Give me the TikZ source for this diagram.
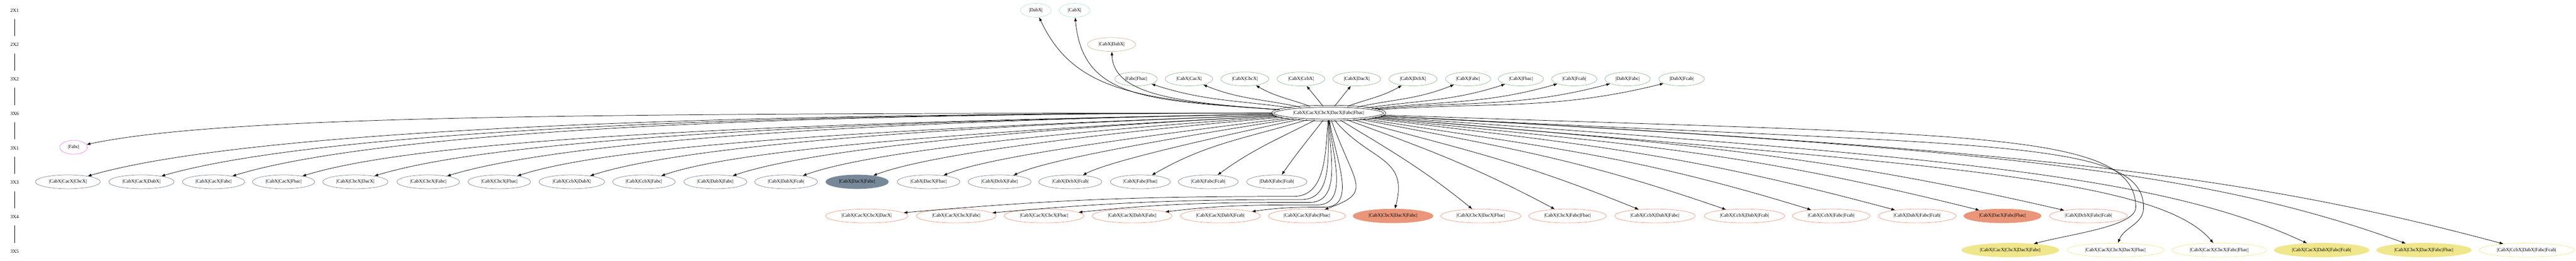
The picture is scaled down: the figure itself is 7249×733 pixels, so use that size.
\documentclass[tikz,border=0pt]{standalone}
\usepackage{fontspec}
\setmainfont{Liberation Serif}
\usetikzlibrary{shapes.geometric, positioning, arrows.meta}

\definecolor{paleblue}{HTML}{B0E0E6}
\definecolor{greytan}{HTML}{CDB79E}
\definecolor{sage}{HTML}{8FBC8F}
\definecolor{orchidline}{HTML}{EE82EE}
\definecolor{slate}{HTML}{778899}
\definecolor{salmonline}{HTML}{E9967A}
\definecolor{khakiline}{HTML}{F0E68C}

\tikzset{
  lbl/.style={font=\fontsize{10.3pt}{12pt}\selectfont},
  rank/.style={lbl, inner sep=0pt, minimum height=36pt, node distance=36.2pt},
  cell/.style={lbl, ellipse, draw, line width=0.8pt, inner xsep=8.6pt, inner ysep=2pt,
    minimum height=29.25pt, minimum width=40.5pt},
  t21/.style={cell, draw=paleblue},
  t22/.style={cell, draw=greytan},
  t32/.style={cell, draw=sage},
  t36/.style={cell, double, double distance=3pt},
  t31/.style={cell, draw=orchidline},
  t33/.style={cell, draw=slate},
  t34/.style={cell, draw=salmonline},
  t35/.style={cell, draw=khakiline},
  link/.style={->, >={Latex[length=8pt, width=6pt]}, line width=0.8pt}
}

\begin{document}
\begin{tikzpicture}[x=0.75pt, y=0.75pt]
\useasboundingbox (0,0) rectangle (7249,733);

% rank column
\node[rank] (r1) at (41,704) {2X1};
\node[rank, below=of r1] (r2) {2X2};
\node[rank, below=of r2] (r3) {3X2};
\node[rank, below=of r3] (r4) {3X6};
\node[rank, below=of r4] (r5) {3X1};
\node[rank, below=of r5] (r6) {3X3};
\node[rank, below=of r6] (r7) {3X4};
\node[rank, below=of r7] (r8) {3X5};
\draw[line width=0.8pt] (r1) -- (r2) -- (r3) -- (r4) -- (r5) -- (r6) -- (r7) -- (r8);

% 2X1, 2X2
\node[t21] (a1) at (2915,704) {|DabX|};
\node[t21] (a2) at (3024,704) {|CabX|};
\node[t22] (b1) at (3128,608) {|CabX|DabX|};

% 3X2
\node[t32] (g1) at (3197,511) {|Fabc|Fbac|};
\node[t32] (g2) at (3346,511) {|CabX|CacX|};
\node[t32] (g3) at (3503,511) {|CabX|CbcX|};
\node[t32] (g4) at (3661,511) {|CabX|CcbX|};
\node[t32] (g5) at (3818,511) {|CabX|DacX|};
\node[t32] (g6) at (3976,511) {|CabX|DcbX|};
\node[t32] (g7) at (4131,511) {|CabX|Fabc|};
\node[t32] (g8) at (4280,511) {|CabX|Fbac|};
\node[t32] (g9) at (4430,511) {|CabX|Fcab|};
\node[t32] (g10) at (4580,511) {|DabX|Fabc|};
\node[t32] (g11) at (4732,511) {|DabX|Fcab|};

% 3X6
\node[t36] (m) at (3739,415) {|CabX|CacX|CbcX|DacX|Fabc|Fbac|};

% 3X1
\node[t31] (f1) at (207,319) {|Fabc|};

% 3X3
\node[t33] (s1) at (191,222) {|CabX|CacX|CbcX|};
\node[t33] (s2) at (398,222) {|CabX|CacX|DabX|};
\node[t33] (s3) at (601,222) {|CabX|CacX|Fabc|};
\node[t33] (s4) at (798,222) {|CabX|CacX|Fbac|};
\node[t33] (s5) at (1000,222) {|CabX|CbcX|DacX|};
\node[t33] (s6) at (1205,222) {|CabX|CbcX|Fabc|};
\node[t33] (s7) at (1405,222) {|CabX|CbcX|Fbac|};
\node[t33] (s8) at (1609,222) {|CabX|CcbX|DabX|};
\node[t33] (s9) at (1812,222) {|CabX|CcbX|Fabc|};
\node[t33] (s10) at (2013,222) {|CabX|DabX|Fabc|};
\node[t33] (s11) at (2212,222) {|CabX|DabX|Fcab|};
\node[t33, fill=slate] (s12) at (2412,222) {|CabX|DacX|Fabc|};
\node[t33] (s13) at (2613,222) {|CabX|DacX|Fbac|};
\node[t33] (s14) at (2813,222) {|CabX|DcbX|Fabc|};
\node[t33] (s15) at (3012,222) {|CabX|DcbX|Fcab|};
\node[t33] (s16) at (3209,222) {|CabX|Fabc|Fbac|};
\node[t33] (s17) at (3400,222) {|CabX|Fabc|Fcab|};
\node[t33] (s18) at (3593,222) {|DabX|Fabc|Fcab|};

% 3X4
\node[t34] (d1) at (2439,126) {|CabX|CacX|CbcX|DacX|};
\node[t34] (d2) at (2691,126) {|CabX|CacX|CbcX|Fabc|};
\node[t34] (d3) at (2938,126) {|CabX|CacX|CbcX|Fbac|};
\node[t34] (d4) at (3186,126) {|CabX|CacX|DabX|Fabc|};
\node[t34] (d5) at (3434,126) {|CabX|CacX|DabX|Fcab|};
\node[t34] (d6) at (3678,126) {|CabX|CacX|Fabc|Fbac|};
\node[t34, fill=salmonline] (d7) at (3920,126) {|CabX|CbcX|DacX|Fabc|};
\node[t34] (d8) at (4167,126) {|CabX|CbcX|DacX|Fbac|};
\node[t34] (d9) at (4411,126) {|CabX|CbcX|Fabc|Fbac|};
\node[t34] (d10) at (4657,126) {|CabX|CcbX|DabX|Fabc|};
\node[t34] (d11) at (4909,126) {|CabX|CcbX|DabX|Fcab|};
\node[t34] (d12) at (5153,126) {|CabX|CcbX|Fabc|Fcab|};
\node[t34] (d13) at (5395,126) {|CabX|DabX|Fabc|Fcab|};
\node[t34, fill=salmonline] (d14) at (5635,126) {|CabX|DacX|Fabc|Fbac|};
\node[t34] (d15) at (5877,126) {|CabX|DcbX|Fabc|Fcab|};

% 3X5
\node[t35, fill=khakiline] (y1) at (5657,30) {|CabX|CacX|CbcX|DacX|Fabc|};
\node[t35] (y2) at (5953,30) {|CabX|CacX|CbcX|DacX|Fbac|};
\node[t35] (y3) at (6245,30) {|CabX|CacX|CbcX|Fabc|Fbac|};
\node[t35, fill=khakiline] (y4) at (6533,30) {|CabX|CacX|DabX|Fabc|Fcab|};
\node[t35, fill=khakiline] (y5) at (6821,30) {|CabX|CbcX|DacX|Fabc|Fbac|};
\node[t35] (y6) at (7110,30) {|CabX|CcbX|DabX|Fabc|Fcab|};

% short edges
\draw[link]
(m) edge[out=176, in=-65, out distance=300pt, in distance=172pt] (a1)
(m) edge[out=176, in=-85, out distance=280pt, in distance=172pt] (a2)
(m) edge[out=176, in=-88, out distance=220pt, in distance=90pt] (b1)
(m) edge[out=172, in=-18] (g1)
(m) edge[out=168, in=-22] (g2)
(m) edge[out=160, in=-30] (g3)
(m) edge[out=129, in=-51] (g4)
(m) edge[out=50, in=-130] (g5)
(m) edge[out=20, in=-150] (g6)
(m) edge[out=12, in=-158] (g7)
(m) edge[out=8, in=-162] (g8)
(m) edge[out=6, in=-164] (g9)
(m) edge[out=5, in=-165] (g10)
(m) edge[out=4, in=-166] (g11)
(m) edge[out=197, in=30] (s16)
(m) edge[out=207, in=36] (s17)
(m) edge[out=232, in=55] (s18)
(m) edge[out=-70, in=20, out distance=150pt, in distance=110pt] (d6)
(m) edge[out=-50, in=75, looseness=1.3] (d7)
(m) edge[out=-31, in=141] (d8)
(m) edge[out=-20, in=152] (d9);

% long edges to the left
\draw[link] (m.180) .. controls +(180:1466pt) and +(12:292pt) .. (f1.12);
\draw[link] (m.180) .. controls +(180:1467pt) and +(16:292pt) .. (s1.16);
\draw[link] (m.180) .. controls +(180:1378pt) and +(16:275pt) .. (s2.16);
\draw[link] (m.180) .. controls +(180:1290pt) and +(17:257pt) .. (s3.17);
\draw[link] (m.181) .. controls +(181:1206pt) and +(17:240pt) .. (s4.17);
\draw[link] (m.181) .. controls +(181:1123pt) and +(17:224pt) .. (s5.17);
\draw[link] (m.181) .. controls +(181:1030pt) and +(17:205pt) .. (s6.17);
\draw[link] (m.182) .. controls +(182:942pt) and +(18:188pt) .. (s7.18);
\draw[link] (m.182) .. controls +(182:854pt) and +(18:170pt) .. (s8.18);
\draw[link] (m.183) .. controls +(183:766pt) and +(19:153pt) .. (s9.19);
\draw[link] (m.183) .. controls +(183:678pt) and +(19:135pt) .. (s10.19);
\draw[link] (m.184) .. controls +(184:594pt) and +(20:119pt) .. (s11.20);
\draw[link] (m.185) .. controls +(185:506pt) and +(21:101pt) .. (s12.21);
\draw[link] (m.187) .. controls +(187:423pt) and +(23:84pt) .. (s13.23);
\draw[link] (m.189) .. controls +(189:339pt) and +(25:68pt) .. (s14.25);
\draw[link] (m.192) .. controls +(192:264pt) and +(28:53pt) .. (s15.28);

% long edges to the right
\draw[link] (m.-15) .. controls +(-15:264pt) and +(158:264pt) .. (d10.158);
\draw[link] (m.-11) .. controls +(-11:332pt) and +(161:332pt) .. (d11.161);
\draw[link] (m.-9) .. controls +(-9:402pt) and +(163:402pt) .. (d12.163);
\draw[link] (m.-7) .. controls +(-7:470pt) and +(165:470pt) .. (d13.165);
\draw[link] (m.-6) .. controls +(-6:540pt) and +(166:540pt) .. (d14.166);
\draw[link] (m.-5) .. controls +(-5:567pt) and +(167:567pt) .. (d15.167);
\draw[link] (m.-5) .. controls +(-5:1125pt) and +(130:188pt) .. (y3.130);
\draw[link] (m.-4) .. controls +(-4:1200pt) and +(155:338pt) .. (y4.155);
\draw[link] (m.-3) .. controls +(-3:1275pt) and +(160:450pt) .. (y5.160);
\draw[link] (m.-3) .. controls +(-3:1350pt) and +(165:578pt) .. (y6.165);

% edges that bend round the lower ranks
\coordinate (p1) at (3640,181);
\coordinate (p2) at (3662,172);
\coordinate (p3) at (3684,164);
\coordinate (p4) at (3706,157);
\coordinate (p5) at (3728,151);
\coordinate (q1) at (6010,150);
\coordinate (q2) at (6032,150);
\draw[link] (m) to[out=-95, in=0] (p1) .. controls +(180:323pt) and +(5:323pt) .. (d1.5);
\draw[link] (m) to[out=-92, in=0] (p2) .. controls +(180:256pt) and +(5:256pt) .. (d2.5);
\draw[link] (m) to[out=-89, in=0] (p3) .. controls +(180:190pt) and +(6:190pt) .. (d3.6);
\draw[link] (m) to[out=-86, in=0] (p4) .. controls +(180:123pt) and +(7:123pt) .. (d4.7);
\draw[link] (m) to[out=-83, in=0] (p5) to[out=180, in=8] (d5);
\draw[link] (m.-2) .. controls +(-2:1238pt) and +(90:165pt) .. (q1)
  to[out=-90, in=15, out distance=40pt, in distance=80pt] (y1);
\draw[link] (m.-3) .. controls +(-3:1250pt) and +(90:150pt) .. (q2)
  to[out=-90, in=70] (y2);

\end{tikzpicture}
\end{document}
